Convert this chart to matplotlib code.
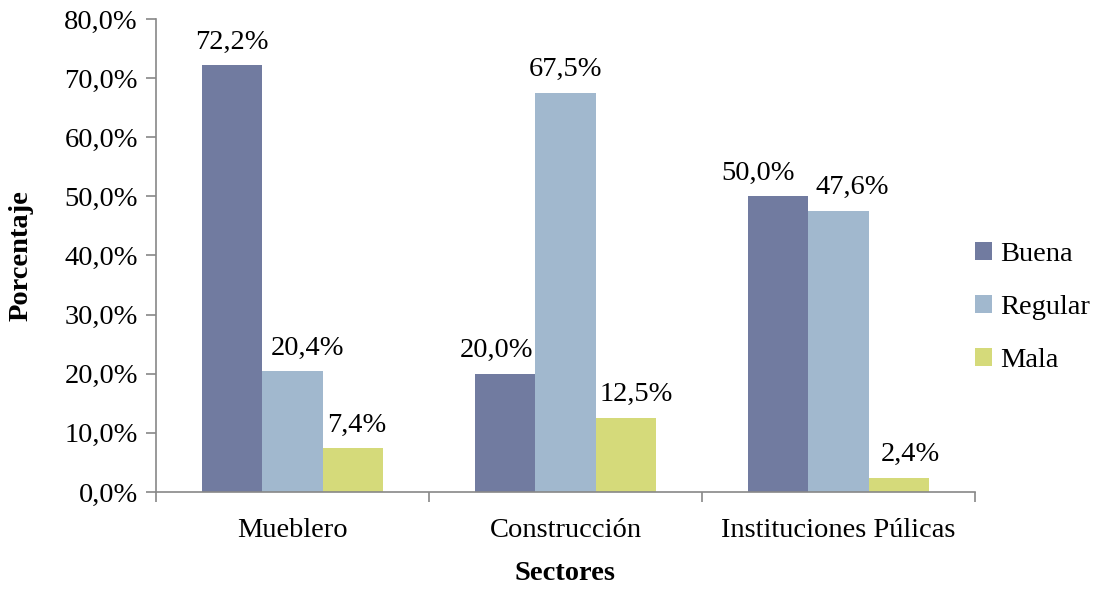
import numpy as np
import matplotlib
matplotlib.use("Agg")
from matplotlib import pyplot as plt
from matplotlib.ticker import FuncFormatter

sectores = ["Mueblero", "Construcción", "Instituciones Púlicas"]
series = ["Buena", "Regular", "Mala"]
buena = [72.2, 20.0, 50.0]
regular = [20.4, 67.5, 47.6]
mala = [7.4, 12.5, 2.4]
colores = ["#717ba0", "#a1b8ce", "#d5da7a"]
# corrimiento horizontal de las etiquetas (en pixeles)
corrimientos = [[0, -8, -20], [15, 0, 14], [4, 10, 11]]

plt.rcParams["font.family"] = ["Liberation Serif", "DejaVu Serif"]
fs = 20.5

fig = plt.figure(figsize=(11.03, 5.92), dpi=100)
ax = fig.add_axes([0.1414, 0.169, 0.7425, 0.799])

x = np.arange(len(sectores))
ancho = 0.222
px = 3.0 / 819  # unidades de datos por pixel
for i, (nombre, vals) in enumerate(zip(series, [buena, regular, mala])):
    pos = x + (i - 1) * ancho
    ax.bar(pos, vals, ancho, color=colores[i], label=nombre)
    for p, v, c in zip(pos, vals, corrimientos[i]):
        ax.text(p + c * px, v + 1.8, f"{v:.1f}%".replace(".", ","), ha="center", va="bottom", fontsize=fs)

ax.set_xlim(-0.5, 2.5)
ax.set_ylim(0, 80)
ax.set_yticks(np.arange(0, 81, 10))
ax.yaxis.set_major_formatter(FuncFormatter(lambda v, _: f"{v:.1f}%".replace(".", ",")))
ax.set_xticks(x)
ax.set_xticklabels(sectores)
ax.set_xticks([-0.5, 0.5, 1.5, 2.5], minor=True)
ax.tick_params(axis="x", which="major", length=0, labelsize=fs, pad=19)
ax.tick_params(axis="x", which="minor", length=7, color="#888888", width=1.2)
ax.tick_params(axis="y", length=7, color="#888888", width=1.2, labelsize=fs, pad=6)

for lado in ["top", "right"]:
    ax.spines[lado].set_visible(False)
for lado in ["left", "bottom"]:
    ax.spines[lado].set_color("#888888")
    ax.spines[lado].set_linewidth(1.2)

ax.set_ylabel("Porcentaje", fontsize=fs, fontweight="bold", labelpad=22)
ax.set_xlabel("Sectores", fontsize=fs, fontweight="bold", labelpad=13)

ax.legend(loc="center left", bbox_to_anchor=(0.986, 0.39), frameon=False, fontsize=fs,
          handlelength=0.6, handleheight=0.6, handletextpad=0.3, labelspacing=0.98,
          borderaxespad=0.0)

fig.savefig("out.png", dpi=100)
